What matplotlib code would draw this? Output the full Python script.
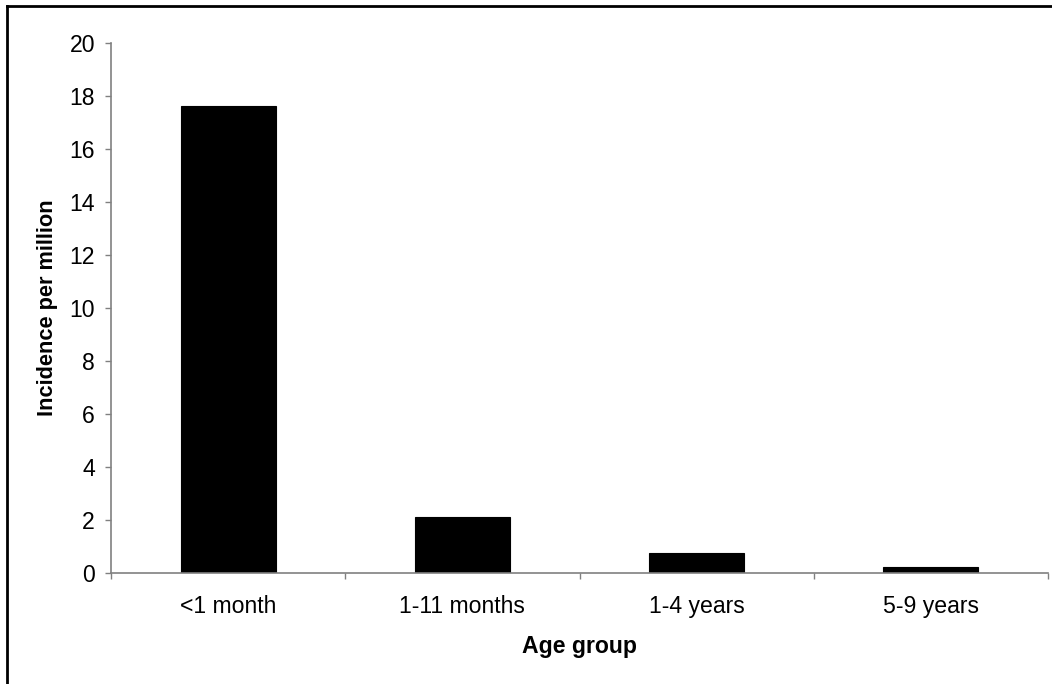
import matplotlib
matplotlib.use("Agg")
import matplotlib.pyplot as plt
from matplotlib.lines import Line2D
import numpy as np

categories = ["<1 month", "1-11 months", "1-4 years", "5-9 years"]
incidence = [17.62, 2.10, 0.74, 0.22]
yticks = [0, 2, 4, 6, 8, 10, 12, 14, 16, 18, 20]

plt.rcParams['font.family'] = ['Liberation Sans', 'DejaVu Sans']
FS = 16.6
GRAY = '#808080'

fig = plt.figure(figsize=(10.52, 6.84), dpi=100)
ax = fig.add_axes([111/1052, 1-573/684, (1048-111)/1052, (573-42.7)/684])

x = np.arange(len(categories))
ax.bar(x, incidence, width=0.405, color='black', edgecolor='black', linewidth=0.8)

ax.set_xlim(-0.5, len(categories) - 0.5)
ax.set_ylim(0, 20)
ax.set_yticks(yticks)
ax.set_yticklabels([str(t) for t in yticks], fontsize=FS)
ax.set_xticks(x)
ax.set_xticklabels(categories, fontsize=FS)
ax.set_xticks(np.arange(len(categories) + 1) - 0.5, minor=True)

for s in ['top', 'right']:
    ax.spines[s].set_visible(False)
for s in ['left', 'bottom']:
    ax.spines[s].set_color(GRAY)
    ax.spines[s].set_linewidth(1.2)

ax.tick_params(axis='y', direction='out', length=4.5, width=1.0, color=GRAY, pad=7)
ax.tick_params(axis='x', which='major', length=0, pad=16)
ax.tick_params(axis='x', which='minor', direction='out', length=4.5, width=1.0, color=GRAY)

ax.set_ylabel("Incidence per million", fontsize=15.7, fontweight='bold', labelpad=8)
ax.set_xlabel("Age group", fontsize=FS, fontweight='bold', labelpad=12)

# figure border (top and left visible)
fig.add_artist(Line2D([7/1052, 1.0], [1-6/684, 1-6/684], color='black', linewidth=2.0, transform=fig.transFigure))
fig.add_artist(Line2D([7/1052, 7/1052], [0.0, 1-6/684], color='black', linewidth=2.0, transform=fig.transFigure))

fig.savefig("out.png", dpi=100)
